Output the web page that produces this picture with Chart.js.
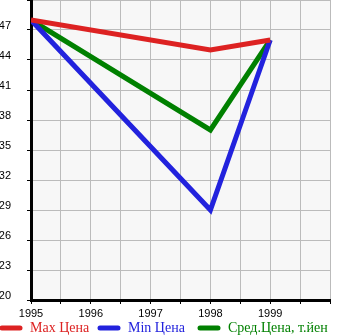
<!DOCTYPE html>
<html>
<head>
<meta charset="utf-8">
<script src="https://cdn.jsdelivr.net/npm/chart.js@4/dist/chart.umd.min.js"></script>
<style>
  html, body { margin: 0; padding: 0; background: #fff; }
  #wrap { width: 345px; height: 335px; position: relative; }
</style>
</head>
<body>
<div id="wrap"><canvas id="priceChart"></canvas></div>
<script>
// price data per year
const years = [1995, 1998, 1999];
const maxPrice = [48, 45, 46];
const minPrice = [48, 29, 46];
const avgPrice = [48, 37, 46];

const seriesNames = ['Max Цена', 'Min Цена', 'Сред.Цена, т.йен'];
const seriesColors = ['#dd2222', '#2222dd', '#008000'];

function toPoints(values) {
    return years.map((year, i) => ({ x: year, y: values[i] }));
}

// light grey fill behind the plot area
const plotBackground = {
    id: 'plotBackground',
    beforeDraw(chart) {
        const { ctx, chartArea } = chart;
        ctx.save();
        ctx.fillStyle = '#f7f7f7';
        ctx.fillRect(chartArea.left, chartArea.top, chartArea.right - chartArea.left, chartArea.bottom - chartArea.top);
        ctx.restore();
    }
};

// legend row under the x axis: rounded line sample + coloured text
const legendSlots = [2, 100, 200];
const lineLegend = {
    id: 'lineLegend',
    afterDraw(chart) {
        const ctx = chart.ctx;
        ctx.save();
        ctx.font = '14px "Liberation Serif"';
        ctx.textBaseline = 'middle';
        const y = 328;
        chart.data.datasets.forEach((ds, i) => {
            const x = legendSlots[i];
            ctx.strokeStyle = ds.borderColor;
            ctx.lineWidth = 5;
            ctx.lineCap = 'round';
            ctx.beginPath();
            ctx.moveTo(x, y);
            ctx.lineTo(x + 18, y);
            ctx.stroke();
            ctx.fillStyle = ds.borderColor;
            ctx.fillText(ds.label, x + 28, y);
        });
        ctx.restore();
    }
};

const ctx = document.getElementById('priceChart').getContext('2d');
new Chart(ctx, {
    type: 'line',
    data: {
        datasets: [maxPrice, minPrice, avgPrice].map((values, i) => ({
            label: seriesNames[i],
            data: toPoints(values),
            borderColor: seriesColors[i],
            borderWidth: 5,
            pointRadius: 0,
            fill: false,
            tension: 0
        }))
    },
    options: {
        responsive: true,
        maintainAspectRatio: false,
        animation: false,
        layout: { padding: { top: 0, right: 15, left: 0, bottom: 0 } },
        plugins: {
            legend: { display: false },
            tooltip: { enabled: false }
        },
        scales: {
            x: {
                type: 'linear',
                min: 1995,
                max: 2000,
                afterFit: scale => {
                    scale.height = 35;
                    scale.paddingLeft = 0;
                    scale.paddingRight = 0;
                },
                border: { color: '#000', width: 3 },
                grid: { color: '#bbb', tickColor: '#000', tickLength: 4 },
                ticks: {
                    stepSize: 0.5,
                    autoSkip: false,
                    maxRotation: 0,
                    padding: 3,
                    color: '#000',
                    font: { family: 'Liberation Sans', size: 11 },
                    callback: v => (Number.isInteger(v) && v < 2000) ? String(v) : ''
                }
            },
            y: {
                min: 20,
                max: 50,
                afterFit: scale => {
                    scale.width = 31;
                    scale.paddingTop = 0;
                    scale.paddingBottom = 0;
                },
                border: { color: '#000', width: 3 },
                grid: { color: '#bbb', tickColor: '#000', tickLength: 4 },
                ticks: {
                    stepSize: 3,
                    padding: 16,
                    labelOffset: -4,
                    color: '#000',
                    font: { family: 'Liberation Sans', size: 11 },
                    callback: v => v === 50 ? '' : String(v)
                }
            }
        }
    },
    plugins: [plotBackground, lineLegend]
});
</script>
</body>
</html>
